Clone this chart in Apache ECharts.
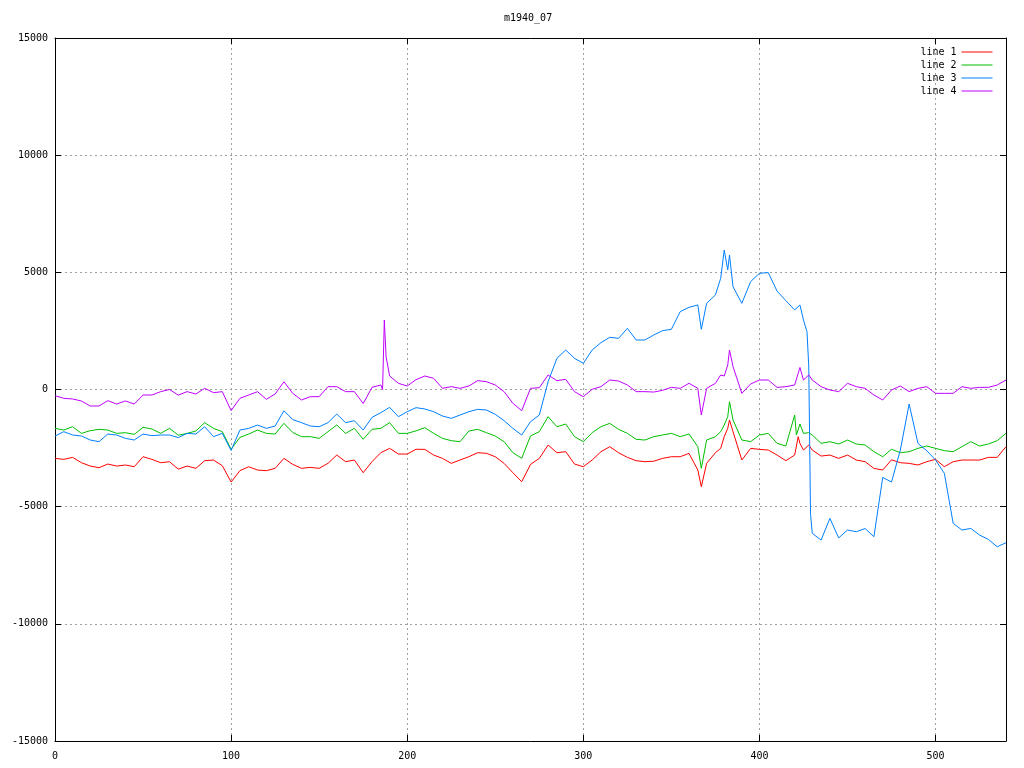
<!DOCTYPE html>
<html><head><meta charset="utf-8">
<script src="https://cdn.jsdelivr.net/npm/echarts@6/dist/echarts.min.js"></script>
<style>html,body{margin:0;padding:0;background:#fff}#c{width:1024px;height:768px}</style>
</head><body><div id="c"></div>
<script>
const chartTitle = 'm1940_07';
const seriesNames = ['line 1', 'line 2', 'line 3', 'line 4'];
const seriesColors = ['#ff0000', '#00c000', '#0080ff', '#c000ff'];

const xs = [
  0,5,10,15,20,25,30,35,40,45,50,55,60,65,70,75,80,85,90,95,
  100,105,110,115,120,125,130,135,140,145,150,155,160,165,170,175,180,185,
  186,187,188,
  190,195,200,205,210,215,220,225,230,235,
  240,245,250,255,260,265,270,275,280,285,
  290,295,300,305,310,315,320,325,330,335,
  340,345,350,355,360,365,
  367,
  370,375,
  378,380,382,383,
  385,390,395,400,405,410,415,420,
  421,422,423,
  425,
  427,428,429,
  430,435,440,445,450,455,460,465,470,475,
  480,485,490,495,500,505,510,515,520,525,
  530,535,540
];

const line1 = [
  -2939,-2981,-2896,-3124,-3266,-3337,-3181,-3266,-3223,-3295,
  -2868,-2981,-3124,-3081,-3400,-3266,-3365,-3038,-3010,-3252,
  -3950,-3465,-3295,-3437,-3465,-3365,-2939,-3195,-3365,-3323,
  -3365,-3152,-2797,-3081,-3010,-3550,-3081,-2697,
  null,null,null,
  -2512,-2754,-2754,-2550,-2555,-2797,-2939,-3152,-3010,-2868,
  -2697,-2725,-2868,-3152,-3550,-3935,-3200,-2939,-2370,-2697,
  -2654,-3181,-3294,-3010,-2654,-2440,-2697,-2896,-3038,-3081,
  -3060,-2939,-2868,-2868,-2726,-3437,
  -4150,
  -3152,-2697,
  -2512,-2013,-1658,-1302,
  -1800,-3010,-2512,-2555,-2583,-2797,-3038,-2797,
  null,-2013,-2298,
  -2583,
  null,-2370,null,
  -2583,-2840,-2797,-2939,-2797,-3010,-3081,-3365,-3437,-3000,
  -3124,-3152,-3223,-3081,-2981,-3294,-3081,-3010,-3010,-3010,
  -2896,-2896,-2440
];

const line2 = [
  -1658,-1730,-1587,-1872,-1757,-1700,-1730,-1872,-1843,-1914,
  -1615,-1686,-1872,-1658,-1950,-1872,-1772,-1416,-1658,-1800,
  -2550,-2042,-1900,-1730,-1872,-1900,-1444,-1835,-2013,-2013,
  -2085,-1800,-1516,-1872,-1658,-2127,-1700,-1658,
  null,null,null,
  -1416,-1872,-1872,-1765,-1629,-1871,-2085,-2184,-2227,-1771,
  -1700,-1843,-1985,-2227,-2696,-2939,-1980,-1800,-1160,-1587,
  -1473,-2013,-2227,-1843,-1587,-1444,-1700,-1871,-2127,-2156,
  -2013,-1942,-1871,-2013,-1899,-2440,
  -3365,
  -2156,-2013,
  -1800,-1516,-1160,-519,
  -1302,-2156,-2227,-1942,-1871,-2298,-2412,-1088,
  -1943,null,-1473,
  -1871,
  null,-1843,null,
  -1942,-2298,-2227,-2327,-2156,-2327,-2369,-2654,-2868,-2550,
  -2697,-2654,-2512,-2412,-2512,-2611,-2654,-2440,-2227,-2412,
  -2327,-2184,-1871
];

const line3 = [
  -1985,-1800,-1942,-1985,-2156,-2227,-1900,-1942,-2085,-2156,
  -1900,-1970,-1942,-1942,-2050,-1872,-1900,-1587,-2013,-1872,
  -2600,-1730,-1658,-1516,-1658,-1559,-905,-1285,-1416,-1559,
  -1587,-1416,-1046,-1416,-1331,-1730,-1189,-990,
  null,null,null,
  -762,-1160,-947,-775,-832,-947,-1131,-1231,-1089,-947,
  -847,-875,-1060,-1331,-1658,-1942,-1373,-1089,334,1330,
  1686,1330,1117,1686,1999,2227,2184,2611,2113,2113,
  2327,2512,2568,3322,3507,3607,
  2568,
  3678,4034,
  4745,5950,5101,5741,
  4390,3678,4603,4959,4987,4200,3792,3394,
  null,null,3607,
  2967,
  2469,1000,-5300,
  -6140,-6425,-5500,-6333,-5998,-6069,-5934,-6283,-3750,-3950,
  -2583,-619,-2298,-2611,-3009,-3579,-5713,-5998,-5927,-6212,
  -6397,-6710,-6539
];

const line4 = [
  -263,-377,-405,-490,-704,-704,-477,-620,-490,-620,
  -235,-235,-92,0,-240,-92,-192,50,-135,-92,
  -900,-377,-235,-92,-420,-192,330,-165,-448,-306,
  -306,121,121,-92,-92,-600,92,192,
  0,2966,1402,
  576,263,149,420,576,477,50,121,50,149,
  377,334,192,-92,-590,-904,50,78,619,377,
  434,-92,-306,7,121,405,363,192,-92,-92,
  -110,-36,92,50,263,50,
  -1088,
  50,263,
  619,576,1046,1686,
  975,-164,235,405,405,90,121,192,
  null,null,940,
  405,
  null,619,null,
  405,121,-21,-92,263,121,50,-235,-448,-21,
  149,-92,50,121,-164,-164,-164,121,50,92,
  92,192,405
];

const seriesValues = [line1, line2, line3, line4];
const FONT = 'DejaVu Sans Mono';

const chart = echarts.init(document.getElementById('c'), null, {renderer: 'canvas'});

function axisBase(extra) {
  return Object.assign({
    type: 'value',
    axisLine: {show: true, onZero: false, lineStyle: {color: '#000', width: 1}},
    axisTick: {show: true, inside: true, length: 6, lineStyle: {color: '#000'}},
    splitLine: {show: false}
  }, extra);
}

const plainNumber = v => String(v);

const option = {
  animation: false,
  backgroundColor: '#fff',
  title: {
    text: chartTitle, left: 499, top: 8,
    textStyle: {fontFamily: FONT, fontSize: 10, fontWeight: 'normal', color: '#000'}
  },
  legend: {
    data: seriesNames, orient: 'vertical', right: 31, top: 46, align: 'right',
    padding: 0, itemWidth: 31, itemHeight: 12, itemGap: 1, selectedMode: false,
    itemStyle: {opacity: 0},
    lineStyle: {width: 1},
    textStyle: {fontFamily: FONT, fontSize: 10, color: '#000', lineHeight: 12}
  },
  grid: {left: 55, right: 18, top: 38, bottom: 27},
  xAxis: [
    axisBase({min: 0, max: 540, interval: 100, position: 'bottom',
      axisLabel: {color: '#000', fontFamily: FONT, fontSize: 10, margin: 10, showMaxLabel: false, formatter: plainNumber},
      splitLine: {show: true, lineStyle: {color: '#a0a0a0', type: [2, 3], width: 1}}}),
    axisBase({min: 0, max: 540, interval: 100, position: 'top', axisLabel: {show: false}})
  ],
  yAxis: [
    axisBase({min: -15000, max: 15000, interval: 5000, position: 'left',
      axisLabel: {color: '#000', fontFamily: FONT, fontSize: 10, margin: 7, formatter: plainNumber},
      splitLine: {show: true, lineStyle: {color: '#a0a0a0', type: [2, 3], width: 1}}}),
    axisBase({min: -15000, max: 15000, interval: 5000, position: 'right', axisLabel: {show: false}})
  ],
  series: seriesNames.map((name, k) => ({
    name: name,
    type: 'line',
    xAxisIndex: 0, yAxisIndex: 0,
    symbol: 'none', showSymbol: false,
    lineStyle: {width: 1, color: seriesColors[k]},
    itemStyle: {color: seriesColors[k]},
    emphasis: {disabled: true},
    data: xs.map((x, i) => [x, seriesValues[k][i]]).filter(p => p[1] !== null)
  }))
};
chart.setOption(option);
</script>
</body></html>
